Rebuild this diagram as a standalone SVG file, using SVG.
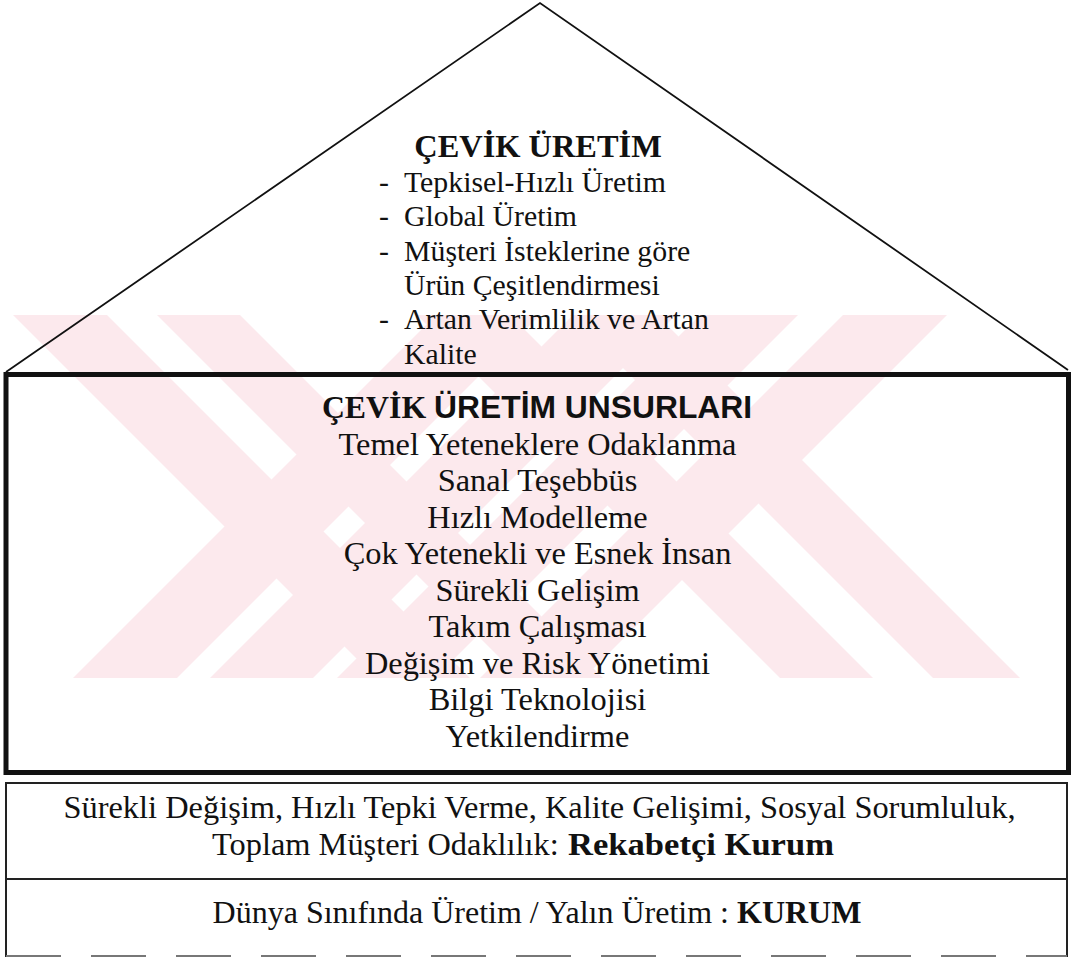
<svg xmlns="http://www.w3.org/2000/svg" width="1071" height="957" viewBox="0 0 1071 957">
  <defs>
    <style>
      .wm { fill: #fce9ed; }
      .t { font-family: "Liberation Serif", "Times New Roman", serif; fill: #111; }
      .s { font-family: "Liberation Sans", Arial, sans-serif; fill: #111; }
      .big { font-size: 32.4px; }
      .low { font-size: 32px; }
      .mid { font-size: 29.8px; }
      .b { font-weight: bold; }
      .roof { fill: none; stroke: #111; stroke-width: 1.8; stroke-linejoin: miter; }
      .thick { fill: none; stroke: #111; stroke-width: 5; }
      .thin { fill: none; stroke: #222; stroke-width: 2; }
    </style>
  </defs>

  <rect x="0" y="0" width="1071" height="957" fill="#fff"/>

  <!-- faint background emblem: two crossed double-stripe X marks, 45 degree bands -->
  <g id="emblem">
    <!-- left X -->
    <polygon class="wm" points="13,315 107,315 470,678 376,678"/>
    <polygon class="wm" points="157,315 240,315 603,678 520,678"/>
    <polygon class="wm" points="73,678 177,678 540,315 436,315"/>
    <polygon class="wm" points="210,678 313,678 676,315 573,315"/>
    <!-- right X -->
    <polygon class="wm" points="843,315 947,315 584,678 480,678"/>
    <polygon class="wm" points="700,315 798,315 435,678 337,678"/>
    <polygon class="wm" points="570,315 657,315 1020,678 933,678"/>
    <polygon class="wm" points="417,315 510,315 873,678 780,678"/>
  </g>

  <!-- roof -->
  <g id="roof">
    <polyline class="roof" points="6,372 540,3 1068,370"/>
    <text class="t big b" x="538" y="157" text-anchor="middle">ÇEVİK ÜRETİM</text>
    <text class="t mid" x="379" y="192">-</text>
    <text class="t mid" x="404" y="192">Tepkisel-Hızlı Üretim</text>
    <text class="t mid" x="379" y="226.3">-</text>
    <text class="t mid" x="404" y="226.3">Global Üretim</text>
    <text class="t mid" x="379" y="260.6">-</text>
    <text class="t mid" x="404" y="260.6">Müşteri İsteklerine göre</text>
    <text class="t mid" x="404" y="294.9">Ürün Çeşitlendirmesi</text>
    <text class="t mid" x="379" y="329.2">-</text>
    <text class="t mid" x="404" y="329.2">Artan Verimlilik ve Artan</text>
    <text class="t mid" x="404" y="363.5">Kalite</text>
  </g>

  <!-- elements box -->
  <g id="elements">
    <rect class="thick" x="6" y="374.5" width="1062.5" height="398"/>
    <text class="b" font-size="31.8" x="537" y="418" text-anchor="middle"><tspan class="t">ÇEVİK </tspan><tspan class="s">ÜRETİM UNSURLARI</tspan></text>
    <text class="t big" x="537.5" y="454.5" text-anchor="middle">Temel Yeteneklere Odaklanma</text>
    <text class="t big" x="537.5" y="491" text-anchor="middle">Sanal Teşebbüs</text>
    <text class="t big" x="537.5" y="527.5" text-anchor="middle">Hızlı Modelleme</text>
    <text class="t big" x="537.5" y="564" text-anchor="middle">Çok Yetenekli ve Esnek İnsan</text>
    <text class="t big" x="537.5" y="600.5" text-anchor="middle">Sürekli Gelişim</text>
    <text class="t big" x="537.5" y="637" text-anchor="middle">Takım Çalışması</text>
    <text class="t big" x="537.5" y="673.5" text-anchor="middle">Değişim ve Risk Yönetimi</text>
    <text class="t big" x="537.5" y="710" text-anchor="middle">Bilgi Teknolojisi</text>
    <text class="t big" x="537.5" y="746.5" text-anchor="middle">Yetkilendirme</text>
  </g>

  <!-- competitive organisation -->
  <g id="competitive">
    <polyline class="thin" points="6,879 6,783 1067,783 1067,879"/>
    <text class="t big" x="539.5" y="818" text-anchor="middle">Sürekli Değişim, Hızlı Tepki Verme, Kalite Gelişimi, Sosyal Sorumluluk,</text>
    <text class="t big" x="212" y="855">Toplam Müşteri Odaklılık:</text>
    <text class="t big b" x="568" y="855" textLength="266" lengthAdjust="spacingAndGlyphs">Rekabetçi Kurum</text>
  </g>

  <!-- organisation base -->
  <g id="base">
    <line class="thin" x1="6" y1="879" x2="1067" y2="879"/>
    <line class="thin" x1="6" y1="879" x2="6" y2="957"/>
    <line class="thin" x1="1067" y1="879" x2="1067" y2="957"/>
    <line x1="6" y1="956" x2="1067" y2="956" stroke="#777" stroke-width="2" stroke-dasharray="55 30"/>
    <text class="t low" x="537" y="923" text-anchor="middle">Dünya Sınıfında Üretim / Yalın Üretim : <tspan class="b">KURUM</tspan></text>
  </g>
</svg>
